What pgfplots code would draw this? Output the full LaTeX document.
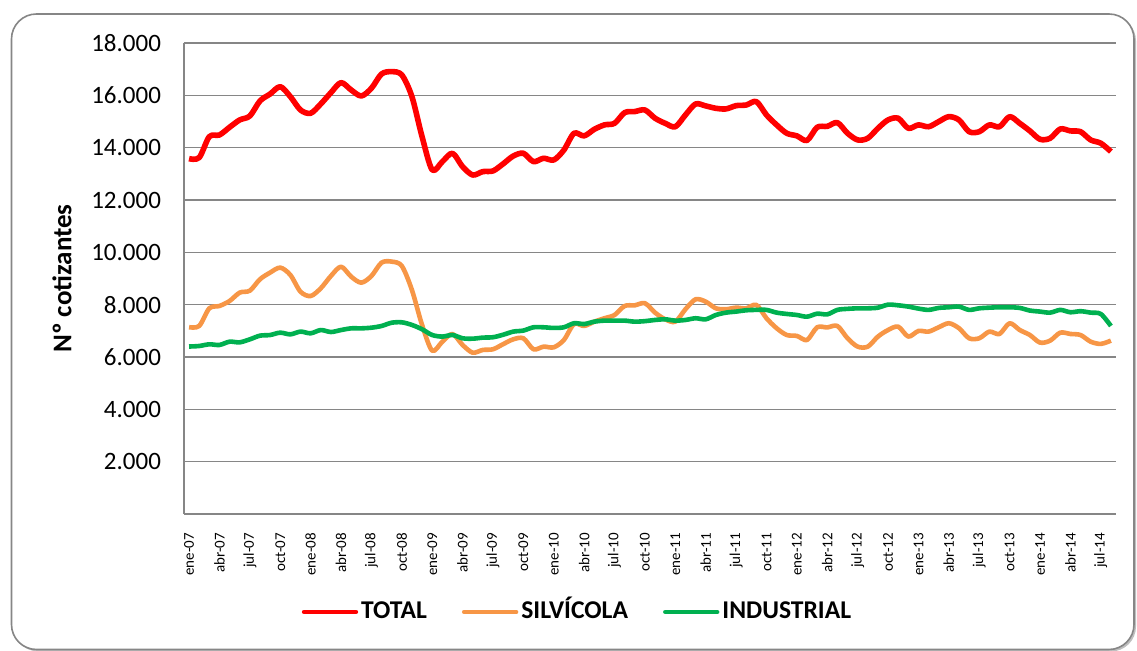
\documentclass[border=0pt]{standalone}
\usepackage{pgfplots}
\usepackage{pgfplotstable}
\pgfplotsset{compat=1.18}
\usepackage{fontspec}
\setmainfont{Carlito}
\definecolor{cTotal}{RGB}{255,0,0}
\definecolor{cSilv}{RGB}{247,150,70}
\definecolor{cInd}{RGB}{0,176,80}
\definecolor{cGrid}{RGB}{134,134,134}
\pgfplotstableread{
i total silv ind
0 13580 7140 6400
1 13620 7185 6420
2 14420 7860 6485
3 14485 7950 6460
4 14780 8140 6585
5 15060 8460 6560
6 15210 8535 6675
7 15785 8970 6815
8 16050 9225 6840
9 16330 9415 6930
10 15950 9135 6865
11 15440 8495 6970
12 15315 8330 6905
13 15670 8625 7030
14 16100 9095 6955
15 16485 9450 7030
16 16205 9070 7095
17 15975 8840 7095
18 16270 9095 7120
19 16815 9605 7185
20 16905 9645 7310
21 16780 9480 7325
22 15950 8560 7225
23 14420 7225 7060
24 13150 6240 6840
25 13465 6585 6780
26 13785 6880 6840
27 13275 6460 6715
28 12955 6165 6700
29 13085 6270 6740
30 13110 6295 6755
31 13380 6490 6850
32 13680 6675 6970
33 13785 6715 7010
34 13465 6295 7135
35 13595 6395 7135
36 13530 6370 7110
37 13910 6650 7135
38 14550 7260 7290
39 14450 7185 7260
40 14700 7350 7350
41 14870 7480 7390
42 14930 7605 7390
43 15340 7950 7390
44 15380 7975 7350
45 15440 8055 7370
46 15125 7695 7415
47 14930 7440 7440
48 14800 7350 7390
49 15250 7825 7415
50 15670 8205 7480
51 15595 8115 7440
52 15505 7860 7605
53 15480 7825 7695
54 15605 7885 7735
55 15630 7860 7785
56 15760 7990 7800
57 15250 7480 7800
58 14870 7100 7695
59 14550 6840 7645
60 14450 6805 7605
61 14275 6650 7540
62 14780 7135 7655
63 14815 7130 7630
64 14955 7185 7800
65 14550 6715 7840
66 14295 6395 7860
67 14360 6395 7860
68 14740 6780 7885
69 15060 7030 8000
70 15125 7160 7975
71 14740 6780 7925
72 14870 6995 7850
73 14800 6970 7800
74 14995 7135 7875
75 15185 7290 7900
76 15060 7100 7925
77 14610 6715 7800
78 14610 6715 7860
79 14870 6970 7885
80 14800 6880 7900
81 15185 7290 7900
82 14930 7030 7875
83 14640 6840 7775
84 14320 6550 7735
85 14360 6625 7695
86 14715 6930 7800
87 14640 6880 7710
88 14610 6840 7750
89 14295 6585 7695
90 14170 6500 7645
91 13850 6625 7185
}\datatable
\begin{document}
\begin{tikzpicture}
\path[use as bounding box] (0pt,0pt) rectangle (568.5pt,325.5pt);
\fill[black!25,rounded corners=12.5pt] (6.75pt,-0.25pt) rectangle (568pt,317.5pt);
\draw[cGrid,line width=0.8pt,fill=white,rounded corners=12.5pt] (5.75pt,0.75pt) rectangle (567pt,318.5pt);
\begin{axis}[
  at={(92pt,68.5pt)}, anchor=south west,
  scale only axis, width=466pt, height=235.5pt,
  xmin=-0.5, xmax=91.5, ymin=0, ymax=18000,
  scaled y ticks=false,
  axis lines*=left,
  axis line style={-, cGrid, line width=0.8pt},
  ymajorgrids, grid style={cGrid, line width=0.8pt},
  major tick length=0pt,
  ytick={2000,4000,6000,8000,10000,12000,14000,16000,18000},
  yticklabels={2.000,4.000,6.000,8.000,10.000,12.000,14.000,16.000,18.000},
  yticklabel style={font=\fontsize{12.5}{15}\selectfont, anchor=east, xshift=-8pt},
  xtick={0,3,...,90},
  xticklabels={ene-07,abr-07,jul-07,oct-07,ene-08,abr-08,jul-08,oct-08,ene-09,abr-09,jul-09,oct-09,ene-10,abr-10,jul-10,oct-10,ene-11,abr-11,jul-11,oct-11,ene-12,abr-12,jul-12,oct-12,ene-13,abr-13,jul-13,oct-13,ene-14,abr-14,jul-14},
  xticklabel style={font=\fontsize{7.5}{9}\selectfont, rotate=90, anchor=east, xshift=-6pt},
  every axis y label/.style={at={(axis description cs:0,0.5)}, xshift=-61pt, rotate=90, anchor=center},
  ylabel={\fontsize{13.5}{16}\selectfont\bfseries Nº cotizantes},
  legend columns=3,
  legend style={at={(rel axis cs:0.4227,-0.208)}, anchor=center, draw=none, fill=none,
    font=\fontsize{12.8}{15}\selectfont\bfseries,
    nodes={inner sep=1.5pt, text height=1.6ex, text depth=0.2ex},
    /tikz/every even column/.append style={column sep=16pt}},
  legend image code/.code={\draw[#1, line width=2.2pt, line cap=round] (0pt,0pt) -- (26pt,0pt);},
]
\addplot[cTotal, line width=2.8pt, smooth, line join=round] table[x=i,y=total]{\datatable};
\addlegendentry{TOTAL}
\addplot[cSilv, line width=2.3pt, smooth, line join=round] table[x=i,y=silv]{\datatable};
\addlegendentry{SILVÍCOLA}
\addplot[cInd, line width=2.3pt, smooth, line join=round] table[x=i,y=ind]{\datatable};
\addlegendentry{INDUSTRIAL}
\end{axis}
\end{tikzpicture}
\end{document}
